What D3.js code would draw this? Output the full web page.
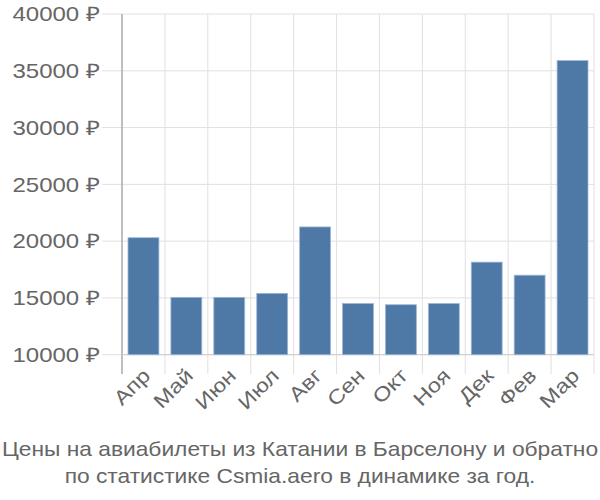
<!DOCTYPE html>
<html><head><meta charset="utf-8">
<script src="https://cdn.jsdelivr.net/npm/d3@7"></script>
<style>body{margin:0;background:#fff}svg{display:block}text{font-family:"Liberation Sans",Arial,sans-serif}</style>
</head><body><svg id="c" width="600" height="500"></svg>
<script>
const categories = ["Апр","Май","Июн","Июл","Авг","Сен","Окт","Ноя","Дек","Фев","Мар"];
const values = [20300,15050,15050,15400,21250,14500,14400,14500,18150,17000,35900];
const yTicks = [10000,15000,20000,25000,30000,35000,40000];
const titleLines = ["Цены на авиабилеты из Катании в Барселону и обратно","по статистике Csmia.aero в динамике за год."];

const svg = d3.select("#c");
const L=122, R=594, T=14, B=354.7;
const x = d3.scaleBand().domain(categories).range([L,R]).paddingInner(0.28).paddingOuter(0.14);
const xb = d3.scaleBand().domain(categories).range([L,R]);
const y = d3.scaleLinear().domain([10000,40000]).range([B,T]);
const grid="#e0e0e0", txt="#666";

svg.append("g").selectAll("line").data(yTicks).join("line")
  .attr("x1",102).attr("x2",R).attr("y1",d=>y(d)).attr("y2",d=>y(d))
  .attr("stroke",grid).attr("stroke-width",1);
const bounds = categories.map(c=>xb(c)).concat([R]);
svg.append("g").selectAll("line").data(bounds.slice(1)).join("line")
  .attr("x1",d=>d).attr("x2",d=>d).attr("y1",T).attr("y2",374)
  .attr("stroke",grid).attr("stroke-width",1);
svg.append("line").attr("x1",L).attr("x2",L).attr("y1",T).attr("y2",374).attr("stroke","#aaa").attr("stroke-width",1.5);
svg.append("line").attr("x1",L).attr("x2",R).attr("y1",B).attr("y2",B).attr("stroke","#ccc").attr("stroke-width",1);

svg.append("g").selectAll("rect").data(values).join("rect")
  .attr("x",(d,i)=>x(categories[i])).attr("width",x.bandwidth())
  .attr("y",d=>y(d)).attr("height",d=>B-y(d))
  .attr("fill","#4e79a7").attr("stroke","#9db6d4").attr("stroke-width",0.8);

svg.append("g").selectAll("text").data(yTicks).join("text")
  .attr("transform",d=>`translate(100,${y(d)}) scale(1.2,1)`).attr("dy","0.36em").attr("text-anchor","end")
  .attr("fill",txt).attr("font-size",20).text(d=>d+" ₽");

svg.append("g").selectAll("text").data(categories).join("text")
  .attr("text-anchor","end").attr("fill",txt).attr("font-size",20)
  .attr("transform",c=>`translate(${xb(c)+xb.bandwidth()/2+3},${372}) rotate(-45) scale(1.18,1)`)
  .attr("dy","0.35em").text(c=>c);

svg.append("g").selectAll("text").data(titleLines).join("text")
  .attr("transform",(d,i)=>`translate(300,${456+i*27}) scale(1.1,1)`).attr("text-anchor","middle")
  .attr("fill",txt).attr("font-size",20.7).text(d=>d);
</script></body></html>
